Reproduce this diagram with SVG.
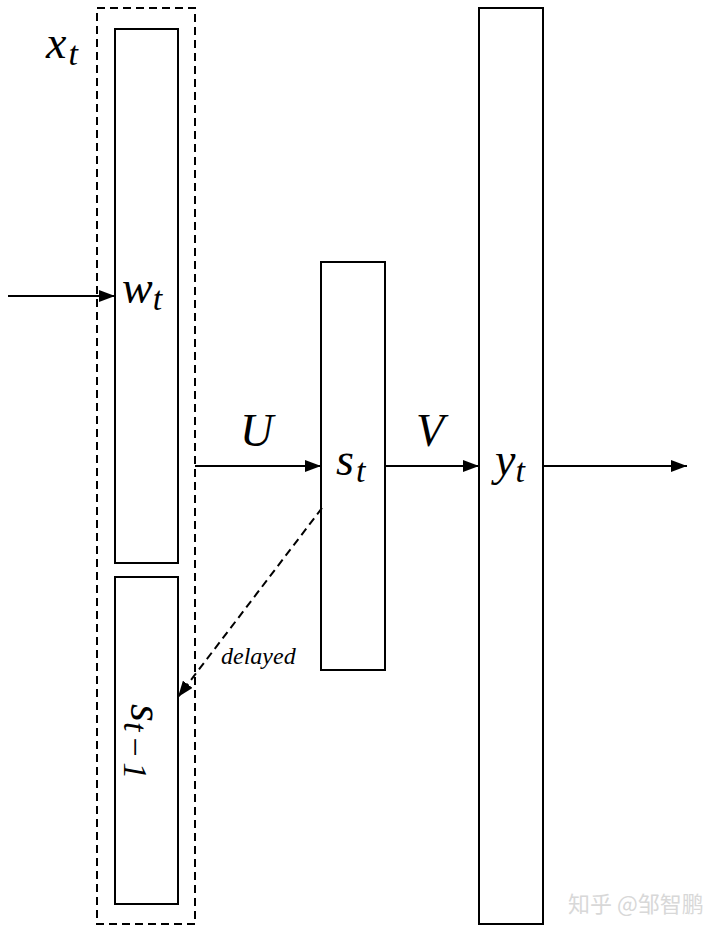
<svg xmlns="http://www.w3.org/2000/svg" width="720" height="933" viewBox="0 0 720 933">
<style>
.box{fill:#fff;stroke:#000;stroke-width:2}
.dash{fill:none;stroke:#000;stroke-width:2;stroke-dasharray:8,5}
.ln{fill:none;stroke:#000;stroke-width:2}
.m{font-family:"Liberation Serif",Tinos,"Times New Roman","DejaVu Serif","Noto Serif",serif;font-style:italic;font-size:46px;fill:#000}
.sub{font-size:34px}
.lbl{font-family:"Liberation Serif",Tinos,"Times New Roman","DejaVu Serif",serif;font-style:italic;font-size:24px;fill:#000}
.wm{font-family:"Noto Sans CJK SC",sans-serif;font-size:22px;fill:#d8d8d8}
</style>
<defs>
<marker id="ah" markerWidth="16" markerHeight="12" refX="16" refY="6" orient="auto" markerUnits="userSpaceOnUse">
<path d="M0,0 L16,6 L0,12 Z" fill="#000"/>
</marker>
</defs>
<rect width="720" height="933" fill="#fff"/>
<g id="xt">
<rect class="dash" x="97" y="8" width="98" height="916"/>
<text class="m" x="46" y="58">x<tspan class="sub" dy="7" dx="2">t</tspan></text>
</g>
<g id="wt">
<rect class="box" x="115" y="29" width="63" height="534"/>
<text class="m" x="122" y="303">w<tspan class="sub" dy="7">t</tspan></text>
</g>
<g id="st1">
<rect class="box" x="115" y="577" width="63" height="327"/>
<text class="m" transform="translate(131,704) rotate(90)">s<tspan class="sub" dy="7" style="letter-spacing:4px">t−1</tspan></text>
</g>
<g id="st">
<rect class="box" x="321" y="262" width="64" height="408"/>
<text class="m" x="336" y="475">s<tspan class="sub" dy="7" dx="2">t</tspan></text>
</g>
<g id="yt">
<rect class="box" x="479" y="8" width="64" height="916"/>
<text class="m" x="495" y="475">y<tspan class="sub" dy="7">t</tspan></text>
</g>
<g id="connectors">
<line class="ln" x1="8" y1="296" x2="115" y2="296" marker-end="url(#ah)"/>
<line class="ln" x1="195" y1="466" x2="321" y2="466" marker-end="url(#ah)"/>
<line class="ln" x1="385" y1="466" x2="479" y2="466" marker-end="url(#ah)"/>
<line class="ln" x1="543" y1="466" x2="687" y2="466" marker-end="url(#ah)"/>
<line class="dash" x1="322" y1="508" x2="178" y2="697" marker-end="url(#ah)"/>
<text class="m" x="240" y="446">U</text>
<text class="m" x="416" y="446">V</text>
<text class="lbl" x="221" y="664">delayed</text>
</g>
<text class="wm" x="568" y="912">知乎 @邹智鹏</text>
</svg>
